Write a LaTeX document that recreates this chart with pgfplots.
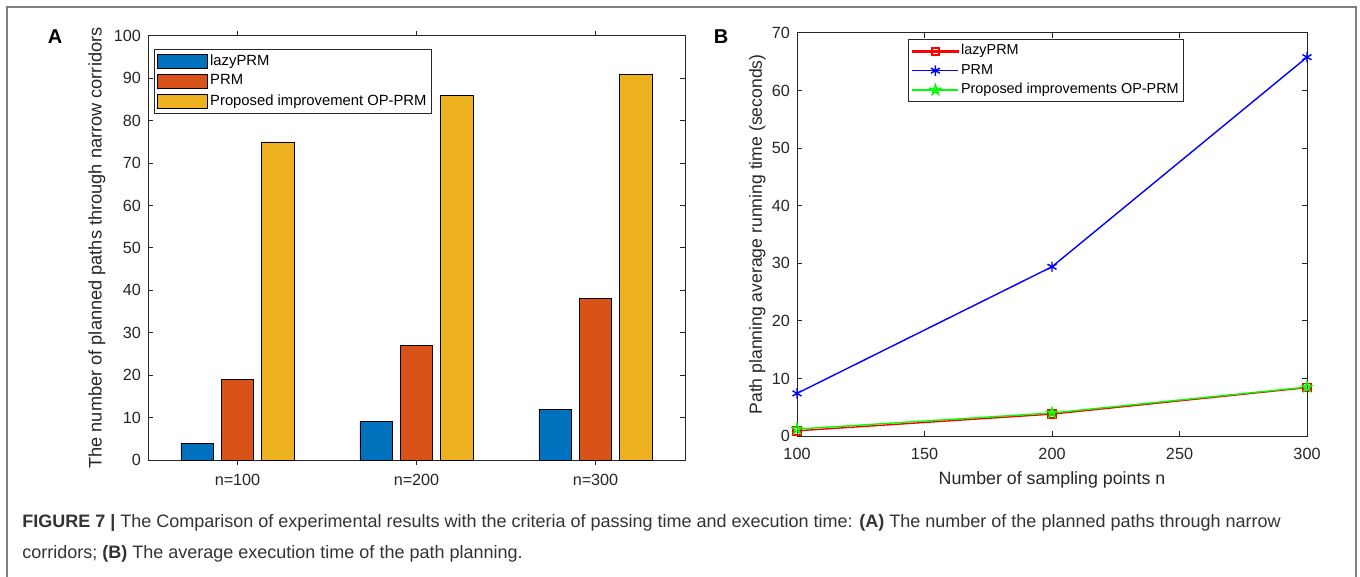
\documentclass[border=0pt]{standalone}
\usepackage{fontspec}
\setmainfont{Liberation Sans}
\usepackage{pgfplots}
\pgfplotsset{compat=1.18}
\definecolor{mblue}{rgb}{0,0.447,0.741}
\definecolor{morange}{rgb}{0.850,0.325,0.098}
\definecolor{myellow}{rgb}{0.929,0.694,0.125}
\definecolor{axgray}{rgb}{0.15,0.15,0.15}
\definecolor{framegray}{gray}{0.5}
\definecolor{captext}{gray}{0.2}
\definecolor{mred}{rgb}{1,0,0}
\definecolor{mgreen}{rgb}{0,1,0}
\definecolor{mbl}{rgb}{0,0,1}
\pgfdeclareplotmark{pentagram}{%
  \pgfpathmoveto{\pgfpointpolar{90}{\pgfplotmarksize}}%
  \pgfpathlineto{\pgfpointpolar{126}{0.382\pgfplotmarksize}}%
  \pgfpathlineto{\pgfpointpolar{162}{\pgfplotmarksize}}%
  \pgfpathlineto{\pgfpointpolar{198}{0.382\pgfplotmarksize}}%
  \pgfpathlineto{\pgfpointpolar{234}{\pgfplotmarksize}}%
  \pgfpathlineto{\pgfpointpolar{270}{0.382\pgfplotmarksize}}%
  \pgfpathlineto{\pgfpointpolar{306}{\pgfplotmarksize}}%
  \pgfpathlineto{\pgfpointpolar{342}{0.382\pgfplotmarksize}}%
  \pgfpathlineto{\pgfpointpolar{18}{\pgfplotmarksize}}%
  \pgfpathlineto{\pgfpointpolar{54}{0.382\pgfplotmarksize}}%
  \pgfpathclose
  \pgfusepathqstroke
}
\pgfdeclareplotmark{msquare}{%
  \pgfpathrectangle{\pgfpoint{-\pgfplotmarksize}{-\pgfplotmarksize}}{\pgfpoint{2\pgfplotmarksize}{2\pgfplotmarksize}}%
  \pgfusepathqstroke
}
\pgfplotsset{
  mybarlegend/.style={legend image code/.code={\draw[##1] (0pt,-3.6pt) rectangle (25pt,3.6pt);}},
  mylinelegend/.style 2 args={legend image code/.code={%
    \draw[draw=#1, #2] (0pt,0pt) -- (23pt,0pt);
    \draw[draw=#1, #2] plot[only marks] coordinates {(11.5pt,0pt)};}},
  redlegend/.style={legend image code/.code={%
    \fill[mred] (0pt,-0.35pt) rectangle (23pt,0.35pt);
    \fill[mred, even odd rule] (9.5pt,-2pt) rectangle (13.5pt,2pt) (9.85pt,-1.65pt) rectangle (13.15pt,1.65pt);}},
  matlabaxis/.style={
    scale only axis,
    tick align=inside, tick pos=both,
    major tick length=2.5pt,
    axis line style={axgray, line width=0.5pt},
    every tick/.style={axgray, line width=0.5pt},
    ticklabel style={font=\fontsize{8.1}{9}\selectfont, text=axgray},
    /pgf/number format/assume math mode=true,
  },
}
\begin{document}
\begin{tikzpicture}
\useasboundingbox (0,0) rectangle (680pt,-288.5pt);
\draw[framegray, line width=1pt] (3.7pt,-290pt) -- (3.7pt,-3.5pt) -- (678pt,-3.5pt) -- (678pt,-290pt);

\begin{axis}[
  matlabaxis,
  at={(74pt,-18pt)}, anchor=north west,
  width=268.5pt, height=212pt,
  xmin=0.5, xmax=3.5, ymin=0, ymax=100,
  ybar, bar width=0.18,
  xtick={1,2,3}, xticklabels={n=100,n=200,n=300},
  ytick={0,10,...,100},
  xticklabel style={yshift=-1pt},
  ylabel={The number of planned paths through narrow corridors},
  ylabel style={at={(axis description cs:-0.095,0.5)}, anchor=center, font=\fontsize{9.1}{10}\selectfont, text=axgray},
  legend style={at={(0.011,0.969)}, anchor=north west, draw=axgray, line width=0.5pt,
    font=\fontsize{7.4}{8}\selectfont, inner sep=1.5pt, row sep=1.2pt,
    nodes={inner sep=1pt}},
  legend cell align=left,
]
\addplot[fill=mblue, draw=black, line width=0.4pt, bar shift=-0.226, mybarlegend] coordinates {(1,4) (2,9) (3,12)};
\addplot[fill=morange, draw=black, line width=0.4pt, bar shift=0, mybarlegend] coordinates {(1,19) (2,27) (3,38)};
\addplot[fill=myellow, draw=black, line width=0.4pt, bar shift=0.226, mybarlegend] coordinates {(1,75) (2,86) (3,91)};
\legend{lazyPRM,PRM,Proposed improvement OP-PRM}
\end{axis}

\begin{axis}[
  matlabaxis,
  at={(398.5pt,-16.5pt)}, anchor=north west,
  width=255pt, height=201.5pt,
  xmin=100, xmax=300, ymin=0, ymax=70,
  xtick={100,150,...,300}, ytick={0,10,...,70},
  xticklabel style={yshift=-2.5pt},
  xlabel={Number of sampling points n},
  xlabel style={at={(axis description cs:0.5,-0.108)}, anchor=center, font=\fontsize{8.9}{10}\selectfont, text=axgray},
  ylabel={Path planning average running time (seconds)},
  ylabel style={at={(axis description cs:-0.078,0.5)}, anchor=center, font=\fontsize{8.8}{10}\selectfont, text=axgray},
  legend style={at={(0.218,0.985)}, anchor=north west, draw=axgray, line width=0.5pt,
    font=\fontsize{7.2}{8}\selectfont, inner sep=1.5pt, row sep=1.1pt,
    nodes={inner sep=1pt}},
  legend cell align=left,
]
\addplot[color=mred, line width=0.7pt, mark=msquare, mark size=2pt, redlegend] coordinates {(100,0.9) (200,3.8) (300,8.4)};
\addplot[color=mbl, line width=0.7pt, mark=asterisk, mark size=2.6pt, mylinelegend={mbl}{line width=0.7pt, mark=asterisk, mark size=2.6pt}] coordinates {(100,7.4) (200,29.4) (300,65.8)};
\addplot[color=mgreen, line width=0.7pt, mark=pentagram, mark size=2.6pt, mylinelegend={mgreen}{line width=0.7pt, mark=pentagram, mark size=2.6pt}] coordinates {(100,1.2) (200,4.0) (300,8.5)};
\legend{lazyPRM,PRM,Proposed improvements OP-PRM}
\end{axis}

\node[font=\bfseries\fontsize{10}{12}\selectfont, text=black] at (27.5pt,-18.5pt) {A};
\node[font=\bfseries\fontsize{10}{12}\selectfont, text=black] at (360.5pt,-18.5pt) {B};

\node[anchor=base west, align=left, text=captext, font=\fontsize{9}{15.5}\selectfont, inner sep=0pt] at (11pt,-279pt)
{\textbf{FIGURE 7 |} The Comparison of experimental results with the criteria of passing time and execution time: \textbf{(A)} The number of the planned paths through narrow\\corridors; \textbf{(B)} The average execution time of the path planning.};
\end{tikzpicture}
\end{document}
